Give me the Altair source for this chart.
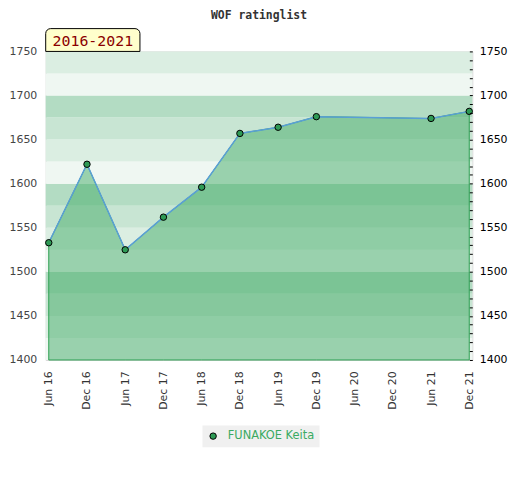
import altair as alt
import pandas as pd

# ---- data ----
periods = ["Jun 16", "Dec 16", "Jun 17", "Dec 17", "Jun 18", "Dec 18",
           "Jun 19", "Dec 19", "Jun 20", "Dec 20", "Jun 21", "Dec 21"]
point_periods = ["Jun 16", "Dec 16", "Jun 17", "Dec 17", "Jun 18", "Dec 18",
                 "Jun 19", "Dec 19", "Jun 21", "Dec 21"]
ratings = [1533, 1622, 1525, 1562, 1596, 1657, 1664, 1676, 1674, 1682]
player = "FUNAKOE Keita"
period_label = "2016-2021"
chart_title = "WOF ratinglist"

band_low = [1400, 1425, 1450, 1475, 1500, 1525, 1550, 1575, 1600, 1625, 1650,
            1675, 1700, 1725]
band_high = [1425, 1450, 1475, 1500, 1525, 1550, 1575, 1600, 1625, 1650, 1675,
             1700, 1725, 1750]
band_shade = ["a", "b", "c", "d", "a", "b", "c", "d", "a", "b", "c", "d", "a", "b"]
shade_keys = ["a", "b", "c", "d"]
shade_colors = ["#eff7f2", "#dbeee2", "#c8e5d3", "#b3dcc3"]

left_ticks = [1400, 1450, 1500, 1550, 1600, 1650, 1700, 1750]
right_ticks = list(range(1400, 1751, 10))

df = pd.DataFrame({"period": point_periods, "rating": ratings, "player": player})
bands = pd.DataFrame({"low": band_low, "high": band_high, "shade": band_shade})

W, H = 430, 311
yscale = alt.Scale(domain=[1400, 1750], nice=False, zero=False)
xscale = alt.Scale(domain=periods, type="point", padding=0.08)
xaxis = alt.Axis(labelAngle=-90, ticks=False, domain=False, grid=False,
                 labelColor="#333", labelFont="DejaVu Sans", labelFontSize=11,
                 labelPadding=11, title=None)

band_layer = alt.Chart(bands).mark_rect().encode(
    x=alt.value(0), x2=alt.value(W),
    y=alt.Y("low:Q", scale=yscale,
            axis=alt.Axis(values=left_ticks, ticks=False, tickSize=0, domain=False,
                          grid=False, labelColor="#444", labelFont="DejaVu Sans",
                          labelFontSize=11, labelPadding=9, title=None, format="d")),
    y2="high:Q",
    color=alt.Color("shade:N", scale=alt.Scale(domain=shade_keys, range=shade_colors),
                    legend=None),
)

base = alt.Chart(df)

area_layer = base.mark_area(fill="#43ab68", fillOpacity=0.5, stroke="#2ea052",
                            strokeWidth=1).encode(
    x=alt.X("period:O", scale=xscale, sort=periods, axis=xaxis),
    y=alt.Y("rating:Q", scale=yscale,
            axis=alt.Axis(orient="right", values=right_ticks, tickSize=3, offset=-3,
                          tickColor="black", tickWidth=1, domain=False, grid=False,
                          zindex=1,
                          labelColor="black", labelFont="DejaVu Sans", labelFontSize=11,
                          labelPadding=7, title=None, format="d",
                          labelExpr="datum.value % 50 == 0 ? datum.label : ''")),
    y2=alt.datum(1400),
)

line_layer = base.mark_line(color="#5a9fd6", strokeWidth=1.5).encode(
    x=alt.X("period:O", scale=xscale, sort=periods, axis=xaxis),
    y=alt.Y("rating:Q", scale=yscale, axis=None),
)

point_layer = base.mark_circle(size=42, opacity=1, stroke="black", strokeWidth=1).encode(
    x=alt.X("period:O", scale=xscale, sort=periods, axis=xaxis),
    y=alt.Y("rating:Q", scale=yscale, axis=None),
    fill=alt.Fill("player:N", scale=alt.Scale(range=["#2e9a55"]),
                  legend=alt.Legend(title=None, orient="none", legendX=158, legendY=377,
                                    fillColor="#f0f0f0", padding=5,
                                    symbolType="circle", symbolSize=42,
                                    symbolFillColor="#2e9a55",
                                    symbolStrokeColor="black", symbolStrokeWidth=1,
                                    labelColor="#3aaa62", labelFont="DejaVu Sans",
                                    labelFontSize=11.5, labelOffset=9)),
)

box_layer = alt.Chart(pd.DataFrame({"t": [period_label]})).mark_rect(
    fill="#ffffcc", stroke="black", strokeWidth=1,
    cornerRadiusTopLeft=5, cornerRadiusTopRight=5,
).encode(x=alt.value(0), x2=alt.value(95), y=alt.value(-23), y2=alt.value(0))

box_text = alt.Chart(pd.DataFrame({"t": [period_label]})).mark_text(
    font="DejaVu Sans Mono", fontSize=15, color="#8b0000", align="center",
    baseline="middle",
).encode(text="t:N", x=alt.value(47.5), y=alt.value(-10.5))

chart = alt.layer(band_layer, area_layer, line_layer, point_layer, box_layer, box_text).resolve_axis(
    y="independent"
).resolve_scale(color="independent", fill="independent").properties(
    width=W, height=H,
    padding={"left": 1, "top": 0, "right": 5, "bottom": 5},
    title=alt.TitleParams(chart_title, font="DejaVu Sans Mono", fontSize=11.5,
                          fontWeight="bold", color="#333", anchor="middle", offset=7),
).configure_view(stroke="#d6d6d6")

chart.save("out.html", embed_options={"renderer": "svg", "actions": False})
